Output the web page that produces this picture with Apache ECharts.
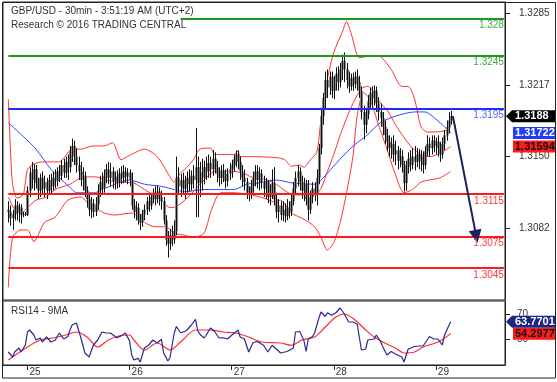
<!DOCTYPE html>
<html><head><meta charset="utf-8">
<script src="https://cdn.jsdelivr.net/npm/echarts@6/dist/echarts.min.js"></script>
<style>html,body{margin:0;padding:0;background:#fff}#c{width:557px;height:382px}</style>
</head><body><div id="c"></div>
<script>
// ---------------- DATA ----------------
const slotCount = 236;          // 30-min slots on the x axis
const firstBar = 2;             // slot of first bar
const midnight25 = 11;          // slot of 25th 00:00
const dayLabels = ['25','26','27','28','29'];
// candles: [open, close, low, high]
const candles = [
[1.3100,1.3098,1.3088,1.3108],[1.3098,1.3092,1.3085,1.3104],[1.3092,1.3096,1.3081,1.3100],[1.3096,1.3104,1.3090,1.3110],
[1.3104,1.3098,1.3090,1.3108],[1.3098,1.3102,1.3088,1.3106],[1.3102,1.3095,1.3087,1.3105],[1.3095,1.3096,1.3093,1.3098],
[1.3096,1.3095,1.3094,1.3098],[1.3095,1.3118,1.3094,1.3122],[1.3118,1.3135,1.3112,1.3140],[1.3135,1.3128,1.3120,1.3145],
[1.3128,1.3138,1.3118,1.3143],[1.3138,1.3125,1.3120,1.3142],[1.3125,1.3118,1.3110,1.3130],[1.3118,1.3130,1.3112,1.3134],
[1.3130,1.3120,1.3115,1.3136],[1.3120,1.3126,1.3112,1.3132],[1.3126,1.3118,1.3110,1.3130],[1.3118,1.3128,1.3114,1.3133],
[1.3128,1.3122,1.3115,1.3134],[1.3122,1.3130,1.3118,1.3136],[1.3130,1.3127,1.3120,1.3138],[1.3127,1.3136,1.3122,1.3140],
[1.3136,1.3132,1.3126,1.3142],[1.3132,1.3142,1.3128,1.3147],[1.3142,1.3135,1.3130,1.3148],[1.3135,1.3145,1.3130,1.3150],
[1.3145,1.3140,1.3128,1.3152],[1.3140,1.3155,1.3135,1.3160],[1.3155,1.3160,1.3145,1.3167],[1.3160,1.3150,1.3142,1.3165],
[1.3150,1.3142,1.3135,1.3158],[1.3142,1.3136,1.3128,1.3150],[1.3136,1.3128,1.3122,1.3145],[1.3128,1.3132,1.3118,1.3140],
[1.3132,1.3118,1.3112,1.3136],[1.3118,1.3110,1.3102,1.3122],[1.3110,1.3100,1.3094,1.3114],[1.3100,1.3106,1.3092,1.3112],
[1.3106,1.3098,1.3093,1.3110],[1.3098,1.3105,1.3094,1.3112],[1.3105,1.3118,1.3100,1.3124],[1.3118,1.3126,1.3112,1.3132],
[1.3126,1.3120,1.3114,1.3135],[1.3120,1.3132,1.3116,1.3138],[1.3132,1.3138,1.3125,1.3143],[1.3138,1.3130,1.3124,1.3145],
[1.3130,1.3136,1.3122,1.3144],[1.3136,1.3127,1.3120,1.3140],[1.3127,1.3131,1.3119,1.3136],[1.3131,1.3126,1.3120,1.3137],
[1.3126,1.3134,1.3121,1.3139],[1.3134,1.3130,1.3124,1.3141],[1.3130,1.3136,1.3125,1.3142],[1.3136,1.3131,1.3126,1.3140],
[1.3131,1.3135,1.3124,1.3139],[1.3135,1.3128,1.3122,1.3138],[1.3128,1.3104,1.3100,1.3135],[1.3104,1.3098,1.3092,1.3110],
[1.3098,1.3102,1.3090,1.3108],[1.3102,1.3090,1.3086,1.3106],[1.3090,1.3088,1.3081,1.3096],[1.3088,1.3096,1.3084,1.3100],
[1.3096,1.3100,1.3090,1.3105],[1.3100,1.3108,1.3095,1.3112],[1.3108,1.3104,1.3098,1.3114],[1.3104,1.3112,1.3100,1.3116],
[1.3112,1.3116,1.3106,1.3120],[1.3116,1.3110,1.3104,1.3122],[1.3110,1.3117,1.3106,1.3123],[1.3117,1.3112,1.3104,1.3121],
[1.3112,1.3108,1.3100,1.3118],[1.3108,1.3090,1.3086,1.3112],[1.3090,1.3072,1.3066,1.3095],[1.3072,1.3068,1.3055,1.3080],
[1.3068,1.3076,1.3062,1.3082],[1.3076,1.3072,1.3066,1.3085],[1.3072,1.3080,1.3068,1.3090],[1.3080,1.3130,1.3076,1.3150],
[1.3130,1.3122,1.3115,1.3140],[1.3122,1.3128,1.3112,1.3134],[1.3128,1.3120,1.3114,1.3135],[1.3120,1.3126,1.3110,1.3132],
[1.3126,1.3130,1.3116,1.3136],[1.3130,1.3124,1.3117,1.3138],[1.3124,1.3132,1.3118,1.3137],[1.3132,1.3128,1.3120,1.3142],
[1.3128,1.3140,1.3093,1.3177],[1.3140,1.3125,1.3093,1.3150],[1.3125,1.3135,1.3112,1.3145],[1.3135,1.3130,1.3118,1.3148],
[1.3130,1.3140,1.3124,1.3146],[1.3140,1.3136,1.3128,1.3150],[1.3136,1.3144,1.3130,1.3152],[1.3144,1.3138,1.3130,1.3150],
[1.3138,1.3148,1.3132,1.3156],[1.3148,1.3140,1.3134,1.3154],[1.3140,1.3134,1.3126,1.3146],[1.3134,1.3130,1.3122,1.3140],
[1.3130,1.3137,1.3124,1.3142],[1.3137,1.3132,1.3126,1.3143],[1.3132,1.3127,1.3120,1.3138],[1.3127,1.3134,1.3122,1.3139],
[1.3134,1.3138,1.3128,1.3144],[1.3138,1.3142,1.3130,1.3147],[1.3142,1.3148,1.3136,1.3152],[1.3148,1.3152,1.3140,1.3156],
[1.3152,1.3145,1.3138,1.3156],[1.3145,1.3136,1.3128,1.3150],[1.3136,1.3130,1.3122,1.3142],[1.3130,1.3126,1.3118,1.3138],
[1.3126,1.3116,1.3110,1.3130],[1.3116,1.3114,1.3108,1.3122],[1.3114,1.3122,1.3110,1.3128],[1.3122,1.3130,1.3116,1.3136],
[1.3130,1.3136,1.3122,1.3142],[1.3136,1.3128,1.3120,1.3142],[1.3128,1.3134,1.3118,1.3140],[1.3134,1.3126,1.3120,1.3138],
[1.3126,1.3120,1.3112,1.3132],[1.3120,1.3126,1.3110,1.3130],[1.3126,1.3112,1.3106,1.3128],[1.3112,1.3118,1.3104,1.3124],
[1.3118,1.3125,1.3110,1.3138],[1.3125,1.3110,1.3104,1.3140],[1.3110,1.3098,1.3092,1.3116],[1.3098,1.3104,1.3088,1.3110],
[1.3104,1.3095,1.3090,1.3108],[1.3095,1.3100,1.3089,1.3108],[1.3100,1.3094,1.3088,1.3106],[1.3094,1.3102,1.3090,1.3110],
[1.3102,1.3098,1.3092,1.3108],[1.3098,1.3108,1.3094,1.3114],[1.3108,1.3120,1.3104,1.3126],[1.3120,1.3130,1.3114,1.3136],
[1.3130,1.3136,1.3122,1.3142],[1.3136,1.3126,1.3118,1.3140],[1.3126,1.3118,1.3110,1.3132],[1.3118,1.3124,1.3108,1.3130],
[1.3124,1.3110,1.3104,1.3128],[1.3110,1.3100,1.3090,1.3128],[1.3100,1.3112,1.3096,1.3118],[1.3112,1.3120,1.3106,1.3126],
[1.3120,1.3114,1.3108,1.3126],[1.3114,1.3130,1.3104,1.3138],[1.3130,1.3158,1.3124,1.3162],[1.3158,1.3188,1.3152,1.3196],
[1.3188,1.3205,1.3180,1.3210],[1.3205,1.3222,1.3195,1.3230],[1.3222,1.3215,1.3205,1.3232],[1.3215,1.3225,1.3208,1.3230],
[1.3225,1.3212,1.3205,1.3230],[1.3212,1.3220,1.3204,1.3226],[1.3220,1.3228,1.3212,1.3234],[1.3228,1.3220,1.3212,1.3235],
[1.3220,1.3232,1.3215,1.3238],[1.3232,1.3240,1.3222,1.3246],[1.3240,1.3232,1.3220,1.3248],[1.3232,1.3222,1.3214,1.3238],
[1.3222,1.3216,1.3210,1.3230],[1.3216,1.3224,1.3212,1.3228],[1.3224,1.3218,1.3212,1.3229],[1.3218,1.3225,1.3214,1.3230],
[1.3225,1.3220,1.3212,1.3232],[1.3220,1.3212,1.3205,1.3226],[1.3212,1.3192,1.3185,1.3216],[1.3192,1.3180,1.3166,1.3198],
[1.3180,1.3190,1.3172,1.3196],[1.3190,1.3202,1.3185,1.3208],[1.3202,1.3210,1.3194,1.3215],[1.3210,1.3205,1.3196,1.3216],
[1.3205,1.3212,1.3198,1.3217],[1.3212,1.3200,1.3192,1.3216],[1.3200,1.3192,1.3184,1.3206],[1.3192,1.3186,1.3178,1.3200],
[1.3186,1.3178,1.3170,1.3192],[1.3178,1.3170,1.3162,1.3184],[1.3170,1.3164,1.3155,1.3176],[1.3164,1.3158,1.3150,1.3170],
[1.3158,1.3162,1.3148,1.3168],[1.3162,1.3152,1.3145,1.3170],[1.3152,1.3156,1.3142,1.3165],[1.3156,1.3146,1.3138,1.3160],
[1.3146,1.3150,1.3140,1.3158],[1.3150,1.3142,1.3135,1.3156],[1.3142,1.3125,1.3117,1.3146],[1.3125,1.3140,1.3118,1.3146],
[1.3140,1.3148,1.3134,1.3154],[1.3148,1.3142,1.3136,1.3156],[1.3142,1.3150,1.3138,1.3158],[1.3150,1.3145,1.3137,1.3160],
[1.3145,1.3152,1.3140,1.3158],[1.3152,1.3146,1.3138,1.3157],[1.3146,1.3150,1.3136,1.3156],[1.3150,1.3142,1.3134,1.3155],
[1.3142,1.3155,1.3138,1.3160],[1.3155,1.3162,1.3150,1.3170],[1.3162,1.3158,1.3150,1.3168],[1.3158,1.3165,1.3152,1.3170],
[1.3165,1.3160,1.3154,1.3170],[1.3160,1.3164,1.3152,1.3168],[1.3164,1.3158,1.3150,1.3170],[1.3158,1.3152,1.3145,1.3164],
[1.3152,1.3162,1.3148,1.3168],[1.3162,1.3170,1.3156,1.3175],[1.3170,1.3178,1.3165,1.3184],[1.3178,1.3184,1.3172,1.3192],
[1.3184,1.3188,1.3180,1.3193]
];
// Bollinger bands (slot, price)
const upperBand = [[2,1.3204],[3,1.3157],[4,1.3124],[6,1.3111],[9,1.3114],[11,1.3138],[14,1.3143],[18,1.3145],[26,1.3145],[32,1.3157],[36,1.3157],[42,1.3160],[47,1.3160],[51,1.3163],[55,1.3147],[58,1.3150],[66,1.3157],[72,1.3150],[78,1.3131],[80,1.3126],[83,1.3135],[85,1.3138],[89,1.3147],[92,1.3157],[97,1.3158],[99,1.3152],[108,1.3152],[110,1.3155],[111,1.3150],[116,1.3150],[128,1.3149],[132,1.3147],[135,1.3141],[139,1.3142],[141,1.3140],[144,1.3147],[147,1.3154],[149,1.3185],[152,1.3223],[155,1.3248],[159,1.3267],[161,1.3277],[163,1.3267],[167,1.3243],[170,1.3244],[174,1.3245],[177,1.3244],[182,1.3232],[187,1.3216],[190,1.3216],[193,1.3204],[196,1.3178],[199,1.3173],[207,1.3174],[210,1.3178]];
const midBand = [[2,1.3112],[5,1.3100],[8,1.3097],[10,1.3100],[15,1.3109],[20,1.3112],[24,1.3119],[31,1.3124],[36,1.3130],[43,1.3131],[48,1.3128],[53,1.3126],[61,1.3125],[66,1.3119],[74,1.3109],[78,1.3102],[81,1.3103],[85,1.3109],[89,1.3117],[94,1.3128],[99,1.3136],[108,1.3136],[113,1.3134],[116,1.3131],[122,1.3129],[128,1.3124],[132,1.3118],[136,1.3114],[141,1.3114],[146,1.3114],[149,1.3120],[152,1.3136],[155,1.3152],[158,1.3170],[161,1.3186],[164,1.3200],[168,1.3214],[171,1.3216],[174,1.3210],[177,1.3200],[180,1.3194],[184,1.3180],[188,1.3168],[192,1.3158],[196,1.3152],[200,1.3150],[205,1.3153],[210,1.31594]];
const lowerBand = [[2,1.3027],[4,1.3074],[8,1.3081],[11,1.3081],[14,1.3070],[19,1.3088],[24,1.3093],[30,1.3109],[36,1.3112],[40,1.3105],[42,1.3103],[47,1.3097],[52,1.3095],[60,1.3097],[66,1.3088],[71,1.3084],[76,1.3084],[80,1.3078],[85,1.3076],[89,1.3074],[94,1.3078],[97,1.3097],[100,1.3112],[102,1.3116],[108,1.3116],[116,1.3114],[122,1.3111],[128,1.3107],[130,1.3109],[135,1.3097],[141,1.3091],[146,1.3084],[149,1.3074],[152,1.3062],[155,1.3069],[158,1.3088],[161,1.3116],[164,1.3150],[166,1.3188],[169,1.3210],[172,1.3204],[176,1.3180],[180,1.3157],[184,1.3133],[188,1.3116],[192,1.3119],[196,1.3126],[200,1.3128],[205,1.3130],[210,1.3136]];
const maBlue = [[2,1.3182],[3,1.3180],[9,1.3169],[15,1.3157],[22,1.3138],[26,1.3130],[31,1.3121],[34,1.3116],[39,1.3116],[43,1.3116],[45,1.3119],[50,1.3122],[53,1.3125],[59,1.3128],[66,1.3124],[74,1.3122],[80,1.3119],[85,1.3117],[94,1.3119],[108,1.3119],[111,1.3121],[114,1.3124],[119,1.3125],[128,1.3128],[136,1.3125],[146,1.3124],[149,1.3128],[155,1.3141],[161,1.3154],[166,1.3163],[170,1.3169],[177,1.3182],[184,1.3188],[193,1.3192],[198,1.3192],[202,1.3187],[206,1.3180],[210,1.31722]];
// RSI(14) and its 9MA
const rsiLine = [[2,39.6],[4,35.6],[5,39.6],[7,42.8],[8,39.6],[10,45.2],[11,55.6],[12,57.2],[14,53.2],[15,49.2],[17,50.8],[18,47.6],[20,51.6],[22,47.6],[24,49],[26,54.8],[28,50],[30,52],[31,57.2],[32,61.2],[34,62.8],[36,51.6],[38,38.8],[40,35.6],[42,45.2],[44,49.2],[46,55.6],[48,54.8],[50,54.8],[53,51],[55,52.5],[57,54.8],[59,48.5],[60,37.2],[61,33.2],[63,34.5],[64,31.6],[66,42.8],[68,45.2],[70,49.2],[72,46.8],[74,49.8],[75,38.8],[77,32.4],[78,35],[80,54.8],[81,60],[83,55],[85,56],[86,57.2],[88,61],[90,65.7],[91,57],[92,54],[94,50.8],[95,53],[97,58.8],[99,56],[101,50.8],[103,51],[105,50],[107,53],[110,57.2],[111,51.6],[113,50],[115,39.6],[117,47],[119,48],[122,45],[124,39.6],[126,45],[128,42],[130,38.8],[133,40],[136,42.8],[137,55.6],[139,56],[141,48.5],[142,40],[143,50],[145,52],[146,54.8],[148,66.8],[149,71.6],[151,68],[152,71],[154,69],[156,71],[158,74.8],[160,70],[162,63.6],[164,63.6],[166,62],[167,51.6],[168,41.2],[170,42],[171,49.2],[174,50],[175,53.2],[177,48],[178,44],[180,37.2],[182,40],[184,38],[187,35.6],[188,31.6],[190,42],[193,44],[195,44.4],[197,44.4],[200,52],[202,50],[204,50],[206,45.2],[207,52.8],[209,60.4],[210,63.7701]];
const rsiMa = [[2,33.2],[11,43.6],[17,49.2],[23,50.8],[29,53.2],[34,55.6],[39,51.6],[44,43.6],[49,49.2],[54,52.4],[59,53.2],[61,49.2],[66,41.2],[72,46.8],[78,41.2],[83,47.6],[90,57.2],[97,57.2],[103,55.6],[109,54.8],[115,51.6],[121,47.6],[130,46.8],[135,45],[140,49.2],[146,51.6],[151,59.6],[156,67.6],[160,70],[165,65.2],[170,57.2],[174,51.6],[179,46.8],[184,42.8],[188,38.8],[193,39.6],[197,43.6],[204,47.6],[210,54.2977]];
// horizontal levels
const levelValues = [1.328, 1.3245, 1.3195, 1.3115, 1.3075, 1.3045];
const levelLabels = ['1.328', '1.3245', '1.3195', '1.3115', '1.3075', '1.3045'];
const levelStart  = [83, 2, 2, 2, 2, 2];
// projection arrow
const arrowFrom = [211, 1.3188];
const arrowTo = [222, 1.3075];
// axis ticks
const priceTickValues = [1.3285, 1.32175, 1.3150, 1.30825];
const priceTickLabels = ['1.3285', '1.3217', '1.3150', '1.3082'];
const rsiTickValues = [50, 70];
// last-value tags
const lastPrice = 1.3188, maLast = 1.31722, midLast = 1.31594;
const rsiLast = 63.7701, rsiMaLast = 54.2977;

// ---------------- BUILD ----------------
const cats = [];
for (let k = 0; k < slotCount; k++) {
  const m = (k - midnight25) * 30;
  const day = 25 + Math.floor(m / 1440);
  const mm = ((m % 1440) + 1440) % 1440;
  cats.push(day + ' ' + String(Math.floor(mm / 60)).padStart(2, '0') + ':' + String(mm % 60).padStart(2, '0'));
}
const candleRows = candles.map((c, i) => [firstBar + i, c[0], c[1], c[2], c[3]]);
const isMidnight = (i, v) => /00:00$/.test(v);

const FONT = '"Liberation Sans", Arial, sans-serif';
const green = '#1e961e', blueL = '#1f2bff', red = '#ff1a1a';
const levelColors = [green, green, blueL, red, red, red];
const levelLabelColors = ['#3fae3f', '#3fae3f', '#5a66ff', '#ff3a3a', '#ff3a3a', '#ff3a3a'];

const levelMarks = levelValues.map((v, i) => [
  { coord: [levelStart[i], v], lineStyle: { color: levelColors[i], width: 2, type: 'solid' },
    label: { show: true, position: 'insideEndBottom', formatter: levelLabels[i], color: levelLabelColors[i], fontSize: 10, fontFamily: FONT, distance: [0, 2] } },
  { coord: [slotCount - 1, v] }
]);

const bandLine = (data, color) => ({
  type: 'line', xAxisIndex: 0, yAxisIndex: 0, data, symbol: 'none', smooth: 0.25,
  lineStyle: { color, width: 1 }, silent: true, z: 3
});

function renderCandle(params, api) {
  const x = api.value(0);
  const pO = api.coord([x, api.value(1)]);
  const pC = api.coord([x, api.value(2)]);
  const pL = api.coord([x, api.value(3)]);
  const pH = api.coord([x, api.value(4)]);
  const cx = Math.round(pO[0]) + 0.5;
  const top = Math.min(pO[1], pC[1]);
  const hgt = Math.max(1, Math.abs(pO[1] - pC[1]));
  return { type: 'group', children: [
    { type: 'rect', shape: { x: cx - 1.5, y: top, width: 3, height: hgt }, style: { fill: '#8c8c8c' } },
    { type: 'line', shape: { x1: cx, y1: pH[1], x2: cx, y2: pL[1] }, style: { stroke: '#111', lineWidth: 1 } }
  ] };
}

const option = {
  animation: false,
  backgroundColor: '#fff',
  title: [
    { text: 'GBP/USD - 30min - 3:51:19 AM (UTC+2)', left: 6, top: 1, textStyle: { fontSize: 10, fontWeight: 'normal', color: '#333', fontFamily: FONT } },
    { text: 'Research © 2016 TRADING CENTRAL', left: 6, top: 15, textStyle: { fontSize: 10, fontWeight: 'normal', color: '#333', fontFamily: FONT } },
    { text: 'RSI14 - 9MA', left: 6, top: 301, textStyle: { fontSize: 10, fontWeight: 'normal', color: '#333', fontFamily: FONT } }
  ],
  grid: [
    { left: 3, top: 2, width: 502, height: 298, show: true, borderColor: '#222', borderWidth: 1, backgroundColor: 'transparent' },
    { left: 3, top: 301, width: 502, height: 64, show: true, borderColor: '#222', borderWidth: 1, backgroundColor: 'transparent' }
  ],
  xAxis: [
    { type: 'category', gridIndex: 0, data: cats, boundaryGap: true, show: false },
    { type: 'category', gridIndex: 1, data: cats, boundaryGap: true,
      axisLine: { show: true, lineStyle: { color: '#222', width: 1 } },
      axisTick: { show: true, interval: isMidnight, alignWithLabel: true, length: 5, lineStyle: { color: '#222' } },
      axisLabel: { show: true, interval: isMidnight, formatter: v => v.split(' ')[0], align: 'left', margin: 2, padding: [0, 0, 0, 2], fontSize: 10, color: '#333', fontFamily: FONT },
      splitLine: { show: false } }
  ],
  yAxis: [
    { type: 'value', gridIndex: 0, position: 'right', min: 1.30151, max: 1.32954, scale: true,
      axisLine: { show: true, lineStyle: { color: '#222' } },
      axisTick: { show: true, length: 5, customValues: priceTickValues, lineStyle: { color: '#222' } },
      axisLabel: { show: true, customValues: priceTickValues, margin: 14, fontSize: 10, color: '#333', fontFamily: FONT,
        formatter: v => { let b = 0; priceTickValues.forEach((t, i) => { if (Math.abs(t - v) < Math.abs(priceTickValues[b] - v)) b = i; }); return priceTickLabels[b]; } },
      splitLine: { show: false } },
    { type: 'value', gridIndex: 1, position: 'right', min: 29.2, max: 80.4,
      axisLine: { show: true, lineStyle: { color: '#222' } },
      axisTick: { show: true, length: 5, customValues: rsiTickValues, lineStyle: { color: '#222' } },
      axisLabel: { show: true, customValues: rsiTickValues, margin: 12, fontSize: 10, color: '#333', fontFamily: FONT },
      splitLine: { show: false } }
  ],
  series: [
    bandLine(upperBand, '#ff3030'),
    bandLine(midBand, '#ff3030'),
    bandLine(lowerBand, '#ff3030'),
    bandLine(maBlue, '#3346ff'),
    { type: 'custom', xAxisIndex: 0, yAxisIndex: 0, data: candleRows, z: 4, silent: true,
      encode: { x: 0, y: [1, 2, 3, 4] }, renderItem: renderCandle },
    { type: 'line', xAxisIndex: 0, yAxisIndex: 0, data: [], z: 6, silent: true,
      markLine: { silent: true, symbol: ['none', 'none'], animation: false, data: levelMarks } },
    { type: 'line', xAxisIndex: 0, yAxisIndex: 0, data: [], z: 7, silent: true,
      markLine: { silent: true, symbol: ['none', 'triangle'], symbolSize: 13, animation: false,
        lineStyle: { color: '#1b1f5c', width: 2, type: 'solid' }, label: { show: false },
        data: [[{ coord: arrowFrom }, { coord: arrowTo }]] } },
    { type: 'line', xAxisIndex: 1, yAxisIndex: 1, data: rsiMa, symbol: 'none', smooth: 0.3,
      lineStyle: { color: '#ff2a2a', width: 1.2 }, silent: true },
    { type: 'line', xAxisIndex: 1, yAxisIndex: 1, data: rsiLine, symbol: 'none',
      lineStyle: { color: '#2a2a8c', width: 1.2 }, silent: true }
  ]
};

const chart = echarts.init(document.getElementById('c'));
chart.setOption(option);

const py = v => chart.convertToPixel({ xAxisIndex: 0, yAxisIndex: 0 }, [0, v])[1];
const ry = v => chart.convertToPixel({ xAxisIndex: 1, yAxisIndex: 1 }, [0, v])[1];
function tag(y, text, bg, fg, arrow) {
  const x0 = 513, x1 = 555, h = 12;
  const box = arrow
    ? { type: 'polygon', shape: { points: [[506, y], [512, y - h / 2], [x1, y - h / 2], [x1, y + h / 2], [512, y + h / 2]] }, style: { fill: bg }, z: 100 }
    : { type: 'rect', shape: { x: x0, y: y - h / 2, width: x1 - x0, height: h }, style: { fill: bg }, z: 100 };
  const t = { type: 'text', x: 515, y: y, z: 101, style: { text, fill: fg, font: 'bold 11px ' + FONT, align: 'left', verticalAlign: 'middle' } };
  return [box, t];
}
const g = [
  { type: 'rect', shape: { x: 2.5, y: 2.5, width: 553, height: 375.5 }, style: { fill: 'none', stroke: '#222', lineWidth: 1 }, z: 50, silent: true },
  ...tag(py(lastPrice), String(lastPrice), '#000', '#fff', true),
  ...tag(py(maLast), String(maLast), '#1f3bff', '#fff', false),
  ...tag(py(midLast), String(midLast), '#ff1a1a', '#111', false),
  ...tag(ry(rsiLast), String(rsiLast), '#1c2580', '#fff', true),
  ...tag(ry(rsiMaLast), String(rsiMaLast), '#ff1a1a', '#111', false)
];
chart.setOption({ graphic: g });
</script>
</body></html>
